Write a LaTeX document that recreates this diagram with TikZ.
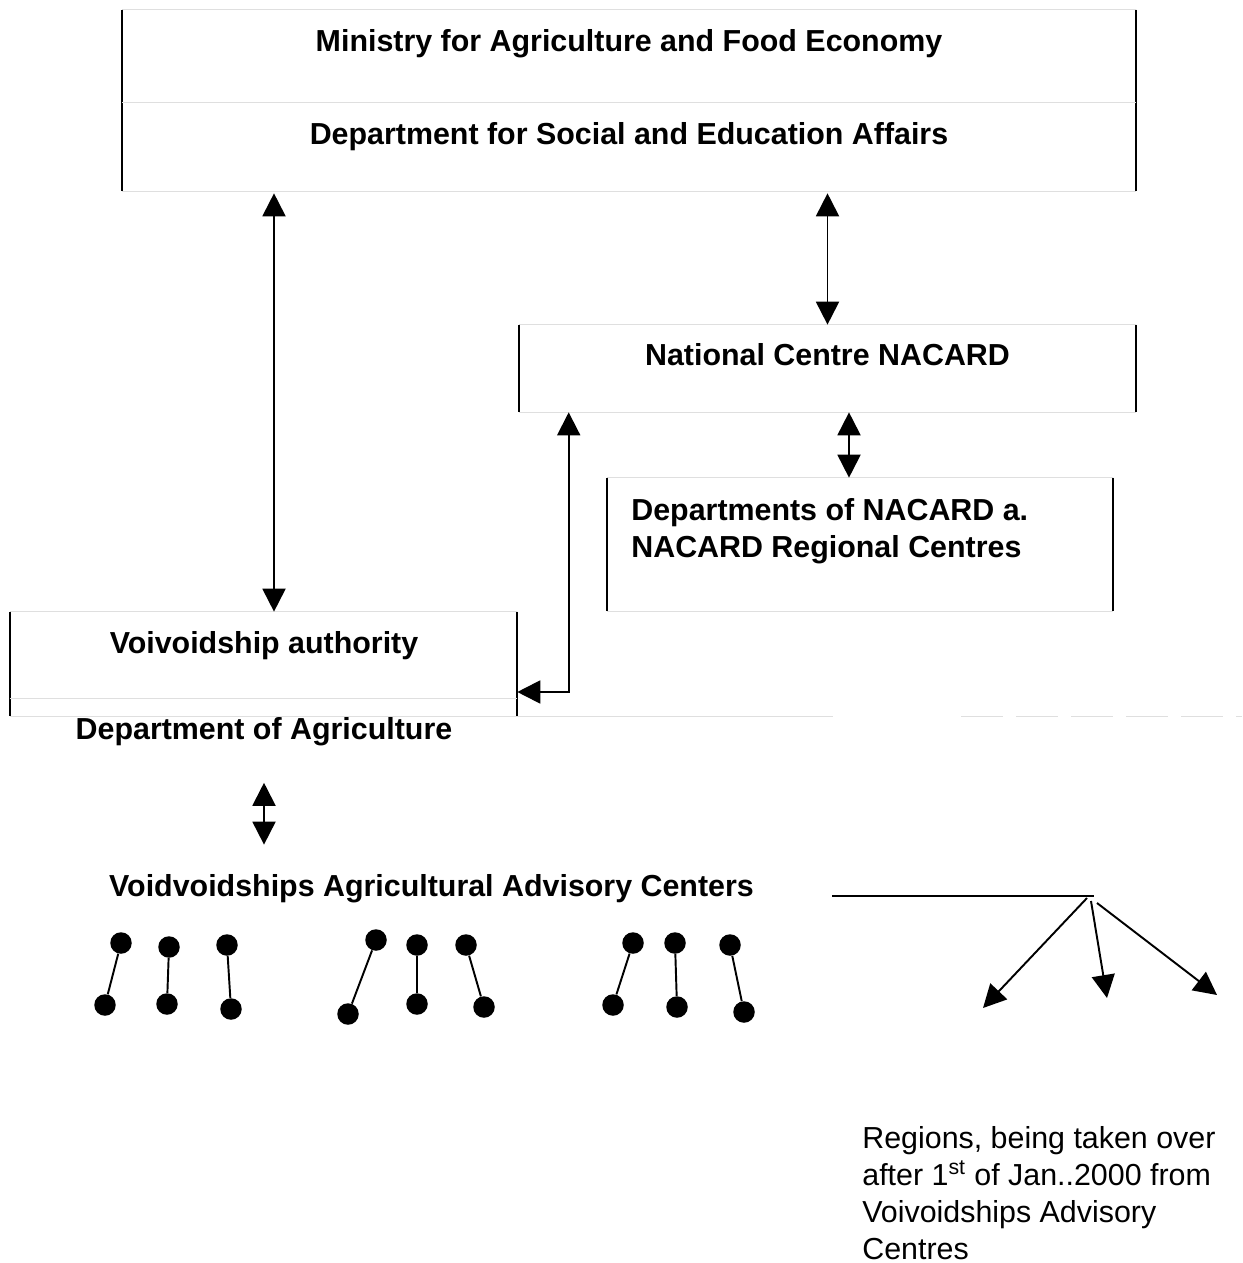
\documentclass[tikz,border=0pt]{standalone}
\usepackage{fontspec}
\setmainfont{Liberation Sans}
\usetikzlibrary{arrows.meta}

\begin{document}
\begin{tikzpicture}[x=0.02cm,y=-0.02cm,
        font=\fontsize{17.3}{21}\selectfont,
        panel/.style 2 args={minimum width=#1,minimum height=#2,inner sep=0},
        side/.style={line width=1.3pt},
        rim/.style={gray!25,line width=0.6pt},
        title/.style={anchor=base,inner sep=0,font=\fontsize{17.3}{21}\selectfont\bfseries},
        dbl/.style={{Triangle[width=0.46cm,length=0.46cm]}-{Triangle[width=0.46cm,length=0.46cm]},line width=1.1pt},
        sgl/.style={-{Triangle[width=0.46cm,length=0.46cm]},line width=1.1pt},
        dot/.style={circle,fill,inner sep=0,minimum size=0.43cm},
        stick/.style={line width=1.1pt}]
    \useasboundingbox (0,0) rectangle (1242,1263);

    % boxes
    \node[panel={20.28cm}{3.62cm}] (ministry) at (629,100.5) {};
    \node[panel={12.34cm}{1.74cm}] (nacard) at (827.5,368.5) {};
    \node[panel={10.12cm}{2.66cm}] (regional) at (860,544.5) {};
    \node[panel={10.14cm}{2.08cm}] (voiv) at (263.5,664) {};

    \foreach \b in {ministry,nacard,regional,voiv} {
        \draw[rim] (\b.north west) -- (\b.north east);
        \draw[rim] (\b.south west) -- (\b.south east);
        \draw[side] (\b.north west) -- (\b.south west);
        \draw[side] (\b.north east) -- (\b.south east);
    }
    \draw[rim] ([yshift=-1.86cm]ministry.north west) -- ([yshift=-1.86cm]ministry.north east);
    \draw[rim] ([yshift=-1.74cm]voiv.north west) -- ([yshift=-1.74cm]voiv.north east);
    \draw[rim] (voiv.south east) -- ++(316,0);
    \draw[rim,dash pattern=on 0.84cm off 0.26cm] ([xshift=8.88cm]voiv.south east) -- ++(281,0);

    % texts
    \node[title] (minText) at (629,52) {Ministry for Agriculture and Food Economy};
    \node[title] (dsea) at (629,145) {Department for Social and Education Affairs};
    \node[title] (natText) at (827.5,366) {National Centre NACARD};
    \node[title,anchor=north west,align=left] (regText) at (631,498)
        {Departments of NACARD a.\\NACARD Regional Centres};
    \node[title] (voivText) at (264,653) {Voivoidship authority};
    \node[title] (deptag) at (264,739) {Department of Agriculture};
    \node[title] (ac) at (431.5,896) {Voidvoidships Agricultural Advisory Centers};
    \node[anchor=north west,inner sep=0,align=left] (note) at (862,1126)
        {Regions, being taken over\\after 1\textsuperscript{st} of Jan..2000 from\\Voivoidships Advisory\\Centres};

    % links
    \draw[dbl,shorten <=0.04cm] ([xshift=0.21cm]voiv.north |- ministry.south) -- ([xshift=0.21cm]voiv.north);
    \draw[dbl,shorten <=0.04cm] (nacard.north |- ministry.south) -- (nacard.north);
    \draw[dbl] ([xshift=-0.22cm]regional.north |- nacard.south) -- ([xshift=-0.22cm]regional.north);
    \draw[dbl] ([xshift=1cm]nacard.south west) |- ([yshift=-0.56cm]voiv.east);
    \draw[dbl,shorten <=0.74cm,shorten >=0.58cm] (deptag.south) -- (deptag.south |- ac.north);

    \coordinate (hub) at (1094,896);
    \coordinate (r1) at (983,1008);
    \coordinate (r2) at (1107,998);
    \coordinate (r3) at (1217,995);
    \draw[stick] ([xshift=1.56cm]ac.base east) -- (hub);
    \draw[sgl] ([shift={(-7,2)}]hub) -- (r1);
    \draw[sgl] ([shift={(-3,5)}]hub) -- (r2);
    \draw[sgl] ([shift={(3,7)}]hub) -- (r3);

    % centres
    \foreach \tx/\ty/\bx/\by [count=\i] in {121/943/105/1005,169/947/167/1004,227/945/231/1009,
            376/940/348/1014,417/945/417/1004,466/945/484/1007,
            633/943/613/1005,675/943/677/1007,730/945/744/1012} {
        \node[dot] (t\i) at (\tx,\ty) {};
        \node[dot] (b\i) at (\bx,\by) {};
        \draw[stick] (t\i) -- (b\i);
    }
\end{tikzpicture}
\end{document}
